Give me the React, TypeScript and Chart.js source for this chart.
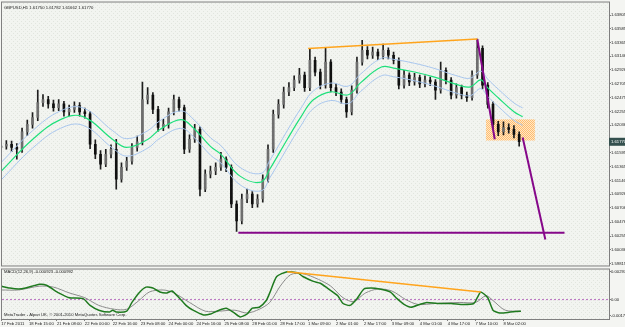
import React, { useEffect, useRef } from "react";
import { Chart, registerables } from "chart.js";
Chart.register(...registerables);

// ---------- texts ----------
const headerText = "GBPUSD,H1 1.61750 1.61782 1.61662 1.61770";
const macdTitle = "MACD(12,26,9) -0.000923 -0.000992";
const copyrightText = "MetaTrader - Alpari UK, \u00A9 2001-2010 MetaQuotes Software Corp.";
const lastPriceText = "1.61770";

// ---------- time axis ----------
const timeLabels = ["17 Feb 2011", "18 Feb 15:00", "21 Feb 08:00", "22 Feb 00:00", "22 Feb 16:00", "23 Feb 08:00", "24 Feb 00:00", "24 Feb 16:00", "25 Feb 08:00", "28 Feb 01:00", "28 Feb 17:00", "1 Mar 09:00", "2 Mar 01:00", "2 Mar 17:00", "3 Mar 09:00", "4 Mar 01:00", "4 Mar 17:00", "7 Mar 10:00", "8 Mar 02:00"];
const labelStep = 16; // bars between time labels
const candleStep = 3; // H1 bars per drawn candle
const xMin = 0.5;
const xMax = 348.5;

// ---------- price axis ----------
const priceTicks = [1.63805, 1.63585, 1.63365, 1.63146, 1.62926, 1.62705, 1.62475, 1.62255, 1.62036, 1.61595, 1.61365, 1.61146, 1.60926, 1.60706, 1.60476, 1.60255, 1.60036, 1.59815];
const priceMin = 1.59782;
const priceMax = 1.64008;

// ---------- candles ----------
const opens = [
  1.6168, 1.6170, 1.6173, 1.6168, 1.6165, 1.6193, 1.6205, 1.6216, 1.6240, 1.6245,
  1.6238, 1.6232, 1.6238, 1.6225, 1.6229, 1.6235, 1.6225, 1.6222, 1.6173, 1.6157,
  1.6141, 1.6157, 1.6165, 1.6117, 1.6136, 1.6146, 1.6168, 1.6177, 1.6245, 1.6252,
  1.6229, 1.6200, 1.6205, 1.6225, 1.6245, 1.6232, 1.6165, 1.6181, 1.6197, 1.6101,
  1.6125, 1.6130, 1.6136, 1.6149, 1.6136, 1.6077, 1.6050, 1.6085, 1.6093, 1.6077,
  1.6085, 1.6117, 1.6165, 1.6221, 1.6237, 1.6257, 1.6264, 1.6276, 1.6284, 1.6264,
  1.6308, 1.6289, 1.6268, 1.6305, 1.6264, 1.6257, 1.6245, 1.6225, 1.6260, 1.6305,
  1.6324, 1.6316, 1.6321, 1.6315, 1.6324, 1.6316, 1.6308, 1.6268, 1.6284, 1.6273,
  1.6280, 1.6270, 1.6276, 1.6273, 1.6260, 1.6292, 1.6276, 1.6252, 1.6264, 1.6252,
  1.6248, 1.6284, 1.6327, 1.6268, 1.6237, 1.6205, 1.6193, 1.6200, 1.6197, 1.6189,
];
const highs = [
  1.6176, 1.6179, 1.6178, 1.6174, 1.6199, 1.6212, 1.6224, 1.6260, 1.6253, 1.6250,
  1.6244, 1.6245, 1.6242, 1.6236, 1.6241, 1.6240, 1.6231, 1.6226, 1.6180, 1.6163,
  1.6165, 1.6172, 1.6181, 1.6143, 1.6152, 1.6174, 1.6186, 1.6273, 1.6264, 1.6256,
  1.6234, 1.6213, 1.6231, 1.6252, 1.6249, 1.6236, 1.6188, 1.6205, 1.6201, 1.6132,
  1.6138, 1.6143, 1.6160, 1.6153, 1.6140, 1.6082, 1.6093, 1.6101, 1.6097, 1.6092,
  1.6124, 1.6172, 1.6228, 1.6245, 1.6265, 1.6272, 1.6283, 1.6295, 1.6289, 1.6327,
  1.6313, 1.6294, 1.6327, 1.6309, 1.6270, 1.6262, 1.6249, 1.6267, 1.6313, 1.6340,
  1.6330, 1.6329, 1.6326, 1.6334, 1.6328, 1.6321, 1.6312, 1.6292, 1.6288, 1.6287,
  1.6284, 1.6283, 1.6281, 1.6277, 1.6305, 1.6296, 1.6280, 1.6270, 1.6268, 1.6257,
  1.6291, 1.6342, 1.6331, 1.6272, 1.6241, 1.6210, 1.6209, 1.6206, 1.6203, 1.6193,
];
const lows = [
  1.6162, 1.6165, 1.6161, 1.6149, 1.6160, 1.6187, 1.6199, 1.6211, 1.6234, 1.6231,
  1.6226, 1.6227, 1.6218, 1.6219, 1.6224, 1.6218, 1.6215, 1.6166, 1.6150, 1.6133,
  1.6137, 1.6151, 1.6101, 1.6112, 1.6131, 1.6141, 1.6162, 1.6172, 1.6238, 1.6222,
  1.6194, 1.6195, 1.6199, 1.6220, 1.6226, 1.6158, 1.6160, 1.6176, 1.6090, 1.6097,
  1.6119, 1.6124, 1.6131, 1.6129, 1.6071, 1.6033, 1.6045, 1.6079, 1.6071, 1.6072,
  1.6080, 1.6112, 1.6160, 1.6215, 1.6231, 1.6251, 1.6259, 1.6271, 1.6258, 1.6259,
  1.6283, 1.6262, 1.6263, 1.6257, 1.6251, 1.6239, 1.6216, 1.6220, 1.6255, 1.6300,
  1.6310, 1.6311, 1.6309, 1.6310, 1.6310, 1.6302, 1.6262, 1.6263, 1.6267, 1.6268,
  1.6264, 1.6265, 1.6267, 1.6245, 1.6255, 1.6270, 1.6246, 1.6247, 1.6246, 1.6242,
  1.6244, 1.6279, 1.6262, 1.6231, 1.6198, 1.6187, 1.6188, 1.6191, 1.6183, 1.6170,
];
const closes = [
  1.6170, 1.6173, 1.6168, 1.6165, 1.6193, 1.6205, 1.6216, 1.6240, 1.6245, 1.6238,
  1.6232, 1.6238, 1.6225, 1.6229, 1.6235, 1.6225, 1.6222, 1.6173, 1.6157, 1.6141,
  1.6157, 1.6165, 1.6117, 1.6136, 1.6146, 1.6168, 1.6177, 1.6245, 1.6252, 1.6229,
  1.6200, 1.6205, 1.6225, 1.6245, 1.6232, 1.6165, 1.6181, 1.6197, 1.6101, 1.6125,
  1.6130, 1.6136, 1.6149, 1.6136, 1.6077, 1.6050, 1.6085, 1.6093, 1.6077, 1.6085,
  1.6117, 1.6165, 1.6221, 1.6237, 1.6257, 1.6264, 1.6276, 1.6284, 1.6264, 1.6308,
  1.6289, 1.6268, 1.6305, 1.6264, 1.6257, 1.6245, 1.6225, 1.6260, 1.6305, 1.6324,
  1.6316, 1.6321, 1.6315, 1.6324, 1.6316, 1.6308, 1.6268, 1.6284, 1.6273, 1.6280,
  1.6270, 1.6276, 1.6273, 1.6260, 1.6292, 1.6276, 1.6252, 1.6264, 1.6252, 1.6248,
  1.6284, 1.6327, 1.6268, 1.6237, 1.6205, 1.6193, 1.6200, 1.6197, 1.6189, 1.6177,
];

// ---------- moving average + envelope ----------
const maX = [0, 18, 34, 47, 64, 72, 84, 91, 103, 110, 120, 126, 137, 149, 154, 164, 172, 179, 189, 199, 206, 218, 225, 237, 248, 262, 269, 275, 279, 285, 294, 299];
const maMid = [1.61297, 1.61807, 1.62126, 1.62174, 1.61807, 1.6168, 1.61807, 1.61967, 1.62126, 1.61999, 1.61696, 1.61568, 1.61218, 1.61122, 1.61329, 1.61807, 1.62174, 1.62445, 1.62573, 1.62525, 1.62716, 1.62971, 1.62955, 1.62891, 1.62812, 1.62684, 1.62652, 1.62764, 1.62636, 1.62477, 1.62254, 1.62174];
const maUpper = [1.61437, 1.61947, 1.62266, 1.62314, 1.61947, 1.6182, 1.61947, 1.62107, 1.62266, 1.62139, 1.61836, 1.61708, 1.61358, 1.61262, 1.61469, 1.61947, 1.62314, 1.62585, 1.62713, 1.62665, 1.62856, 1.63111, 1.63095, 1.63031, 1.62952, 1.62824, 1.62792, 1.62904, 1.62776, 1.62617, 1.62394, 1.62314];
const maLower = [1.61157, 1.61667, 1.61986, 1.62034, 1.61667, 1.6154, 1.61667, 1.61827, 1.61986, 1.61859, 1.61556, 1.61428, 1.61078, 1.60982, 1.61189, 1.61667, 1.62034, 1.62305, 1.62433, 1.62385, 1.62576, 1.62831, 1.62815, 1.62751, 1.62672, 1.62544, 1.62512, 1.62624, 1.62496, 1.62337, 1.62114, 1.62034];

// ---------- drawn objects ----------
const topTrendX = [176, 273];
const topTrendY = [1.6327, 1.6342];
const dropLineX = [273, 283];
const dropLineY = [1.6342, 1.6181];
const targetLineX = [299, 312];
const targetLineY = [1.6184, 1.602];
const supportX = [136, 323];
const supportY = [1.6031, 1.6031];
const zoneX = [278, 306];
const zoneY = [1.6179, 1.6213];

// ---------- MACD ----------
const macdTicks = [0.002974, 0, -0.001707];
const macdMin = -0.00205;
const macdMax = 0.00318;
const macdX = [0, 5, 10, 14, 22, 26, 33, 39, 47, 51, 56, 62, 64, 66, 72, 75, 79, 83, 87, 91, 95, 98, 102, 106, 110, 116, 120, 125, 129, 133, 137, 141, 144, 148, 152, 154, 158, 164, 170, 173, 179, 183, 187, 193, 196, 200, 204, 208, 212, 217, 223, 227, 231, 235, 240, 244, 250, 258, 265, 271, 273, 275, 279, 282, 286, 292, 298];
const macdMain = [0.00142, 0.00122, 0.00112, 0.00122, 0.00162, 0.00152, 0.00071, 0.0002, 0.0001, -0.00061, -0.00112, -0.00132, -0.00112, -0.00132, -0.00122, -0.0003, 0.00071, 0.00132, 0.00122, 0.00081, 0.00071, 0.00091, 0.0002, -0.00061, -0.00112, -0.00162, -0.00152, -0.00112, -0.00091, -0.00132, -0.00183, -0.00152, -0.00091, -0.00081, -0.0001, 0.00071, 0.00244, 0.00294, 0.00284, 0.00244, 0.00193, 0.00173, 0.00122, 0.00041, -0.00041, -0.00061, 0.0001, 0.00112, 0.00122, 0.00112, 0.00081, 0.0001, -0.00051, -0.00081, -0.00051, -0.0003, -0.00041, -0.00041, -0.00051, -0.00041, 0.0002, 0.00081, 0.0002, -0.00112, -0.00142, -0.00132, -0.00122];
const sigX = [0, 10, 22, 30, 39, 48, 56, 65, 72, 79, 85, 93, 99, 108, 117, 125, 134, 141, 148, 154, 160, 166, 173, 182, 189, 196, 202, 209, 216, 224, 232, 239, 249, 263, 272, 278, 282, 289, 298];
const sigVal = [0.00102, 0.00102, 0.00142, 0.00132, 0.00071, 0.0002, -0.00061, -0.00102, -0.00102, -0.0001, 0.00081, 0.00102, 0.00071, -0.0003, -0.00122, -0.00122, -0.00112, -0.00142, -0.00102, -0.0003, 0.00142, 0.00264, 0.00274, 0.00213, 0.00142, 0.0002, -0.0002, 0.00071, 0.00112, 0.00091, 0.0, -0.00051, -0.00041, -0.0003, -0.0003, 0.00041, -0.0001, -0.00112, -0.00122];
const macdTrendX = [164, 275];
const macdTrendY = [0.00294, 0.00081];

// ---------- helpers ----------
const FONT = '"Liberation Sans", Arial, sans-serif';
const FONT_SIZE = 4.2;
const zip = (xs: number[], ys: number[]) => xs.map((x, i) => ({ x, y: ys[i] }));

function dotPattern(ctx: CanvasRenderingContext2D, base: string, dot: string, checker = false) {
  const c = document.createElement("canvas");
  c.width = 4;
  c.height = 4;
  const g = c.getContext("2d")!;
  g.fillStyle = base;
  g.fillRect(0, 0, 4, 4);
  g.fillStyle = dot;
  if (checker) {
    for (let y = 0; y < 4; y++) for (let x = 0; x < 4; x++) if ((x + y) % 2 === 0) g.fillRect(x, y, 1, 1);
  } else {
    g.fillRect(1, 1, 1, 1);
    g.fillRect(3, 3, 1, 1);
  }
  return ctx.createPattern(c, "repeat")!;
}

const backgroundPlugin = {
  id: "mtBackground",
  beforeDraw(chart: any) {
    const ctx = chart.ctx;
    const { left, top, right, bottom } = chart.chartArea;
    ctx.save();
    ctx.fillStyle = "#f4f5f2";
    ctx.fillRect(0, 0, chart.width, chart.height);
    ctx.fillStyle = dotPattern(ctx, "#f2f4f0", "#e1e5de");
    ctx.fillRect(left, top, right - left, bottom - top);
    ctx.restore();
  },
  afterDraw(chart: any) {
    const ctx = chart.ctx;
    const { left, top, right, bottom } = chart.chartArea;
    ctx.save();
    ctx.strokeStyle = "#7f7f7f";
    ctx.lineWidth = 1;
    ctx.strokeRect(left - 0.5, top - 0.5, right - left + 1, bottom - top + 1);
    ctx.restore();
  },
};

const zonePlugin = {
  id: "zone",
  beforeDatasetsDraw(chart: any) {
    const ctx = chart.ctx;
    const xs = chart.scales.x;
    const ys = chart.scales.y;
    const x1 = xs.getPixelForValue(zoneX[0]);
    const x2 = xs.getPixelForValue(zoneX[1]);
    const y1 = ys.getPixelForValue(zoneY[1]);
    const y2 = ys.getPixelForValue(zoneY[0]);
    ctx.save();
    ctx.fillStyle = dotPattern(ctx, "#ffe7c6", "#ffbd70", true);
    ctx.fillRect(x1, y1, x2 - x1, y2 - y1);
    ctx.restore();
  },
};

const priceTextPlugin = {
  id: "priceText",
  afterDraw(chart: any) {
    const ctx = chart.ctx;
    const ys = chart.scales.y;
    const { right } = chart.chartArea;
    ctx.save();
    ctx.font = `${FONT_SIZE}px ${FONT}`;
    ctx.fillStyle = "#1a1a1a";
    ctx.textBaseline = "middle";
    ctx.textAlign = "left";
    ctx.fillText(headerText, 4, 8);
    // separator line between panes
    ctx.strokeStyle = "#8a8a8a";
    ctx.beginPath();
    ctx.moveTo(0, chart.height - 0.5);
    ctx.lineTo(chart.width, chart.height - 0.5);
    ctx.stroke();
    // current price marker
    const py = ys.getPixelForValue(closes[closes.length - 1]);
    ctx.fillStyle = "#34504e";
    ctx.fillRect(right, py - 4, chart.width - right, 8);
    ctx.fillStyle = "#ffffff";
    ctx.fillText(lastPriceText, right + 2, py + 0.5);
    ctx.restore();
  },
};

const macdTextPlugin = {
  id: "macdText",
  afterDraw(chart: any) {
    const ctx = chart.ctx;
    ctx.save();
    ctx.font = `${FONT_SIZE}px ${FONT}`;
    ctx.fillStyle = "#1a1a1a";
    ctx.textBaseline = "middle";
    ctx.textAlign = "left";
    ctx.fillText(macdTitle, 4, 4.5);
    ctx.fillText(copyrightText, 4, 48);
    ctx.restore();
  },
};

function priceConfig(): any {
  const wicks = closes.map((c, i) => ({ x: i * candleStep, y: [lows[i], highs[i]] }));
  const bodies = closes.map((c, i) => ({ x: i * candleStep, y: [opens[i], c] }));
  const bodyColors = closes.map((c, i) => (c >= opens[i] ? "#6e6e6e" : "#101010"));
  const line = (data: any, color: string, width: number, order: number, tension = 0) => ({
    type: "line",
    data,
    borderColor: color,
    borderWidth: width,
    pointRadius: 0,
    tension,
    fill: false,
    order,
  });
  return {
    type: "bar",
    data: {
      datasets: [
        { type: "bar", data: wicks, backgroundColor: "#1e1e1e", barThickness: 1, grouped: false, order: 6 },
        { type: "bar", data: bodies, backgroundColor: bodyColors, barThickness: 2, minBarLength: 1, grouped: false, order: 5 },
        line(zip(maX, maUpper), "#a8c6ee", 1, 3, 0.4),
        line(zip(maX, maLower), "#a8c6ee", 1, 3, 0.4),
        line(zip(maX, maMid), "#1fe07c", 1.2, 2, 0.4),
        line(zip(supportX, supportY), "#86088a", 2, 1),
        line(zip(topTrendX, topTrendY), "#ffa41c", 1.5, 1),
        line(zip(dropLineX, dropLineY), "#86088a", 2, 1),
        line(zip(targetLineX, targetLineY), "#86088a", 2, 1),
      ],
    },
    options: {
      animation: false,
      responsive: false,
      maintainAspectRatio: false,
      events: [],
      layout: { padding: { left: 2, top: 2, right: 0, bottom: 1 } },
      plugins: { legend: { display: false }, tooltip: { enabled: false } },
      scales: {
        x: { type: "linear", min: xMin, max: xMax, offset: false, display: false },
        y: {
          type: "linear",
          position: "right",
          min: priceMin,
          max: priceMax,
          afterFit(s: any) {
            s.width = 16;
          },
          afterBuildTicks(s: any) {
            s.ticks = priceTicks.map((v) => ({ value: v }));
          },
          ticks: {
            autoSkip: false,
            padding: 0,
            color: "#222",
            font: { size: FONT_SIZE, family: FONT },
            callback: (v: any) => Number(v).toFixed(5),
          },
          grid: { drawOnChartArea: false, drawTicks: true, tickLength: 2, color: "#7f7f7f" },
          border: { display: true, color: "#7f7f7f" },
        },
      },
    },
    plugins: [backgroundPlugin, zonePlugin, priceTextPlugin],
  };
}

function macdConfig(): any {
  const line = (data: any, color: string, width: number, order: number, tension = 0, dash: number[] = []) => ({
    type: "line",
    data,
    borderColor: color,
    borderWidth: width,
    borderDash: dash,
    pointRadius: 0,
    tension,
    fill: false,
    order,
  });
  return {
    type: "line",
    data: {
      datasets: [
        line(zip([xMin, xMax], [0, 0]), "#b86cc0", 1, 4, 0, [2, 2]),
        line(zip(sigX, sigVal), "#8c8c8c", 1, 3, 0.3),
        line(zip(macdX, macdMain), "#1f7a1f", 1.5, 2, 0.2),
        line(zip(macdTrendX, macdTrendY), "#ffa41c", 1.5, 1),
      ],
    },
    options: {
      animation: false,
      responsive: false,
      maintainAspectRatio: false,
      events: [],
      layout: { padding: { left: 2, top: 1, right: 0, bottom: 0 } },
      plugins: { legend: { display: false }, tooltip: { enabled: false } },
      scales: {
        x: {
          type: "linear",
          min: xMin,
          max: xMax,
          offset: false,
          position: "bottom",
          afterFit(s: any) {
            s.height = 8;
          },
          afterBuildTicks(s: any) {
            s.ticks = timeLabels.map((_, k) => ({ value: k * labelStep }));
          },
          ticks: {
            autoSkip: false,
            maxRotation: 0,
            minRotation: 0,
            align: "start",
            padding: 0,
            color: "#222",
            font: { size: FONT_SIZE, family: FONT },
            callback: (v: any) => timeLabels[Math.round(Number(v) / labelStep)] ?? "",
          },
          grid: { drawOnChartArea: false, drawTicks: true, tickLength: 2, color: "#7f7f7f" },
          border: { display: true, color: "#7f7f7f" },
        },
        y: {
          type: "linear",
          position: "right",
          min: macdMin,
          max: macdMax,
          afterFit(s: any) {
            s.width = 16;
          },
          afterBuildTicks(s: any) {
            s.ticks = macdTicks.map((v) => ({ value: v }));
          },
          ticks: {
            autoSkip: false,
            padding: 0,
            color: "#222",
            font: { size: FONT_SIZE, family: FONT },
            callback: (v: any) => (Number(v) === 0 ? "0.00" : Number(v).toFixed(6)),
          },
          grid: { drawOnChartArea: false, drawTicks: true, tickLength: 2, color: "#7f7f7f" },
          border: { display: true, color: "#7f7f7f" },
        },
      },
    },
    plugins: [backgroundPlugin, macdTextPlugin],
  };
}

export default function App() {
  const priceRef = useRef<HTMLCanvasElement>(null);
  const macdRef = useRef<HTMLCanvasElement>(null);
  useEffect(() => {
    document.body.style.margin = "0";
    document.body.style.background = "#f4f5f2";
    const c1 = new Chart(priceRef.current!, priceConfig());
    const c2 = new Chart(macdRef.current!, macdConfig());
    return () => {
      c1.destroy();
      c2.destroy();
    };
  }, []);
  return (
    <div style={{ position: "relative", width: 625, height: 327, overflow: "hidden" }}>
      <canvas ref={priceRef} width={625} height={268} style={{ position: "absolute", left: 0, top: 0 }} />
      <canvas ref={macdRef} width={625} height={60} style={{ position: "absolute", left: 0, top: 267 }} />
    </div>
  );
}
